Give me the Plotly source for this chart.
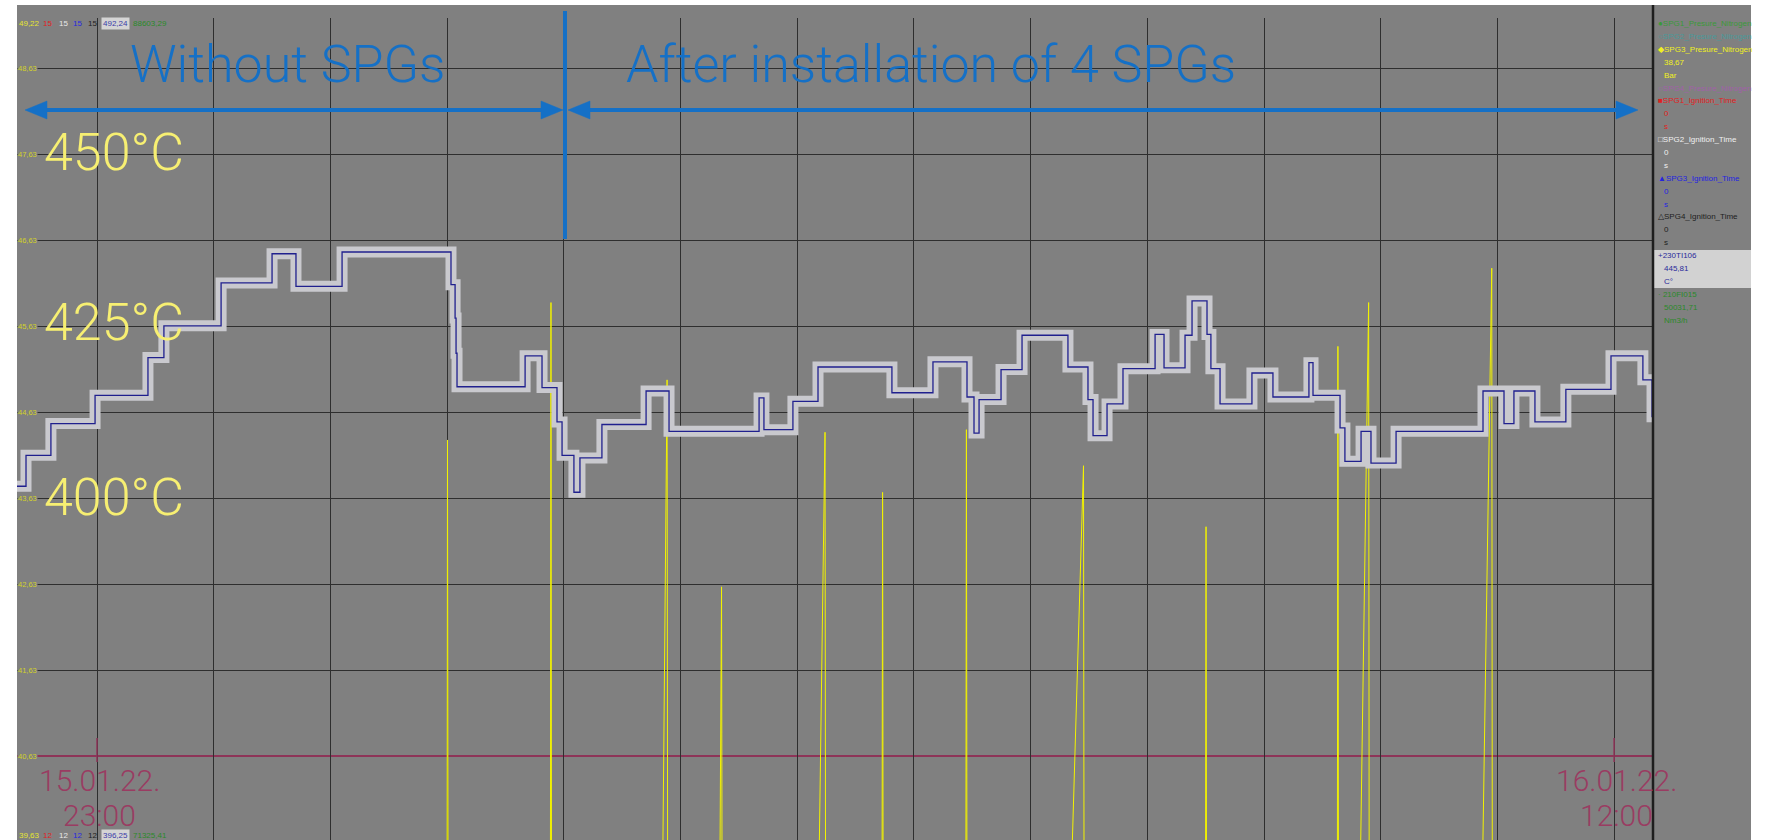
import plotly.graph_objects as go
from datetime import datetime, timedelta

# ---------------- data ----------------
x_range = ["2022-01-15 22:18:52", "2022-01-16 12:20:00"]

# 230TI106 temperature (step line)
temp_times = [
    "2022-01-15 22:18:52", "2022-01-15 22:23:30", "2022-01-15 22:36:18", "2022-01-15 22:59:00",
    "2022-01-15 23:26:12", "2022-01-15 23:34:24", "2022-01-16 00:03:48", "2022-01-16 00:30:00",
    "2022-01-16 00:42:18", "2022-01-16 01:06:00", "2022-01-16 02:02:00", "2022-01-16 02:04:06",
    "2022-01-16 02:04:36", "2022-01-16 02:05:06", "2022-01-16 02:40:06", "2022-01-16 02:48:48",
    "2022-01-16 02:56:30", "2022-01-16 02:59:06", "2022-01-16 03:05:12", "2022-01-16 03:08:18",
    "2022-01-16 03:19:36", "2022-01-16 03:42:18", "2022-01-16 03:54:06", "2022-01-16 04:40:24",
    "2022-01-16 04:42:54", "2022-01-16 04:57:48", "2022-01-16 05:10:42", "2022-01-16 05:48:42",
    "2022-01-16 06:09:48", "2022-01-16 06:27:18", "2022-01-16 06:30:54", "2022-01-16 06:33:30",
    "2022-01-16 06:44:48", "2022-01-16 06:55:36", "2022-01-16 07:19:12", "2022-01-16 07:29:30",
    "2022-01-16 07:32:06", "2022-01-16 07:39:18", "2022-01-16 07:47:30", "2022-01-16 08:04:00",
    "2022-01-16 08:08:36", "2022-01-16 08:19:24", "2022-01-16 08:23:00", "2022-01-16 08:30:42",
    "2022-01-16 08:32:42", "2022-01-16 08:37:24", "2022-01-16 08:53:48", "2022-01-16 09:04:36",
    "2022-01-16 09:23:06", "2022-01-16 09:25:12", "2022-01-16 09:39:06", "2022-01-16 09:41:36",
    "2022-01-16 09:49:54", "2022-01-16 09:55:00", "2022-01-16 10:07:54", "2022-01-16 10:52:36",
    "2022-01-16 11:03:24", "2022-01-16 11:08:30", "2022-01-16 11:19:18", "2022-01-16 11:35:12",
    "2022-01-16 11:58:24", "2022-01-16 12:14:48", "2022-01-16 12:19:30", "2022-01-16 12:20:00",
]
temp_values = [
    437.7, 441.3, 445.0, 448.3,
    452.7, 456.4, 461.4, 464.8,
    461.0, 465.0, 461.2, 457.3,
    453.2, 449.3, 452.9, 449.2,
    445.2, 441.3, 437.0, 441.0,
    444.9, 448.8, 444.1, 448.0,
    444.3, 447.6, 451.6, 448.6,
    452.2, 448.1, 443.9, 447.8,
    451.3, 455.3, 451.6, 447.8,
    443.6, 447.3, 451.4, 455.4,
    451.5, 455.3, 459.3, 455.4,
    451.4, 447.3, 450.9, 448.1,
    452.1, 448.3, 444.5, 440.6,
    444.1, 440.4, 444.1, 448.8,
    445.0, 448.8, 445.2, 449.0,
    452.9, 450.1, 445.81, 445.81,
]

# SPG3_Presure_Nitrogen spikes
pressure_baseline = 38.67
spike_times = [
    "2022-01-16 02:00:12", "2022-01-16 02:53:24", "2022-01-16 03:53:06", "2022-01-16 04:21:06",
    "2022-01-16 05:14:18", "2022-01-16 05:43:54", "2022-01-16 06:27:00", "2022-01-16 07:27:12",
    "2022-01-16 08:30:12", "2022-01-16 09:38:00", "2022-01-16 09:53:48", "2022-01-16 10:57:06",
]
spike_peaks = [44.31, 45.91, 45.01, 42.60, 44.40, 43.70, 44.43, 44.01, 43.30, 45.40, 45.91, 46.31]
spike_rise_min = [0.2, 0.3, 2.5, 1.0, 3.5, 0.3, 0.3, 7.0, 0.3, 0.3, 4.7, 5.2]
spike_fall_min = 0.3

# axis scales / tick labels
pressure_ticks = [41.63, 42.63, 43.63, 44.63, 45.63, 46.63, 47.63, 48.63]
pressure_marker_level = 40.63
pressure_min, pressure_max = 39.63, 49.22
temp_min, temp_max = 396.25, 492.24
date_labels = [("2022-01-15 23:00", "15.01.22.", "23:00"), ("2022-01-16 12:00", "16.01.22.", "12:00")]

header_values = ["49,22", "15", "15", "15", "15", "492,24", "88603,29"]
footer_values = ["39,63", "12", "12", "12", "12", "396,25", "71325,41"]

legend_lines = [
    ("●SPG1_Presure_Nitrogen", "#3a9a3a", 0), ("○SPG2_Presure_Nitrogen", "#4a9a9a", 0),
    ("◆SPG3_Presure_Nitrogen", "#f0f020", 0), ("38,67", "#f0f020", 1), ("Bar", "#f0f020", 1),
    ("○SPG4_Presure_Nitrogen", "#a060a8", 0),
    ("■SPG1_Ignition_Time", "#e02020", 0), ("0", "#e02020", 1), ("s", "#e02020", 1),
    ("□SPG2_Ignition_Time", "#f0f0f0", 0), ("0", "#f0f0f0", 1), ("s", "#f0f0f0", 1),
    ("▲SPG3_Ignition_Time", "#2424e0", 0), ("0", "#2424e0", 1), ("s", "#2424e0", 1),
    ("△SPG4_Ignition_Time", "#1e1e1e", 0), ("0", "#1e1e1e", 1), ("s", "#1e1e1e", 1),
    ("+230TI106", "#2a2a9a", 0), ("445,81", "#2a2a9a", 1), ("C°", "#2a2a9a", 1),
    ("· 210FI015", "#2a8a2a", 0), ("50031,71", "#2a8a2a", 1), ("Nm3/h", "#2a8a2a", 1),
]

# ---------------- geometry helpers (layout only) ----------------
W, H = 1765, 840
PL, PR, PT, PB = 17, 1653, 18, 840


def px(X):
    return (X - PL) / (PR - PL)


def py(Y):
    return (PB - Y) / (PB - PT)


# axis ranges matching the reference's pixel frame (full axis 18.3..841.9 px)
p_per_px = (pressure_max - pressure_min) / (841.9 - 18.3)
t_per_px = (temp_max - temp_min) / (841.9 - 18.3)
y_range = [pressure_min + (841.9 - PB) * p_per_px, pressure_max + (18.3 - PT) * p_per_px]
y2_range = [temp_min + (841.9 - PB) * t_per_px, temp_max + (18.3 - PT) * t_per_px]

# pressure series built from the spike readings
fmt = "%Y-%m-%d %H:%M:%S"
p_x = [x_range[0]]
p_y = [pressure_baseline]
for t, pk, r in zip(spike_times, spike_peaks, spike_rise_min):
    tt = datetime.strptime(t, fmt)
    p_x += [tt - timedelta(minutes=r), tt, tt + timedelta(minutes=spike_fall_min)]
    p_y += [pressure_baseline, pk, pressure_baseline]
p_x.append(x_range[1])
p_y.append(pressure_baseline)

BG = "#808080"
GRID = "#2e2e2e"
MAROON = "#8e3458"
BLUE = "#1570c6"
PALEY = "#f7ef72"
SMALL = "Liberation Sans, Arial, sans-serif"
THIN = "Roboto, Lato, Open Sans, sans-serif"

fig = go.Figure()
fig.add_trace(go.Scatter(x=temp_times, y=temp_values, yaxis="y2", mode="lines",
                         line=dict(color="#c9c9ce", width=11, shape="hv"), hoverinfo="skip"))
fig.add_trace(go.Scatter(x=temp_times, y=temp_values, yaxis="y2", mode="lines",
                         line=dict(color="#20208e", width=1.3, shape="hv"), hoverinfo="skip"))
fig.add_trace(go.Scatter(x=p_x, y=p_y, yaxis="y", mode="lines",
                         line=dict(color="#f2f200", width=1), hoverinfo="skip"))

shapes = []
annotations = []

# white outer margins
shapes.append(dict(type="rect", xref="paper", yref="paper", x0=px(0), x1=px(PL), y0=py(H), y1=py(0),
                   fillcolor="white", line_width=0, layer="above"))
shapes.append(dict(type="rect", xref="paper", yref="paper", x0=px(0), x1=px(W), y0=py(5), y1=py(0),
                   fillcolor="white", line_width=0, layer="above"))
shapes.append(dict(type="rect", xref="paper", yref="paper", x0=px(1751), x1=px(W), y0=py(H), y1=py(0),
                   fillcolor="white", line_width=0, layer="above"))
# right border of plot
shapes.append(dict(type="line", xref="paper", yref="paper", x0=1, x1=1, y0=0, y1=py(5),
                   line=dict(color="#1e1e1e", width=2.5), layer="above"))
# maroon reference line and ticks
shapes.append(dict(type="line", xref="paper", yref="y", x0=0, x1=1, y0=pressure_marker_level,
                   y1=pressure_marker_level, line=dict(color=MAROON, width=2), layer="below"))
for d, _, _ in date_labels:
    shapes.append(dict(type="line", xref="x", yref="paper", x0=d, x1=d, y0=py(762), y1=py(738),
                       line=dict(color=MAROON, width=1.5), layer="above"))

# highlight box in the side legend
shapes.append(dict(type="rect", xref="paper", yref="paper", x0=px(1654), x1=px(1751), y0=py(288), y1=py(250),
                   fillcolor="#d2d2d2", line_width=0, layer="below"))

# blue separator and arrows
shapes.append(dict(type="line", xref="paper", yref="paper", x0=px(565), x1=px(565), y0=py(239), y1=py(11),
                   line=dict(color=BLUE, width=4), layer="above"))


def arrow(x0, x1, yc):
    hl, hh = 22, 9
    shapes.append(dict(type="line", xref="paper", yref="paper", x0=px(x0 + 10), x1=px(x1 - 10), y0=py(yc), y1=py(yc),
                       line=dict(color=BLUE, width=4), layer="above"))
    for tip, base in ((x0, x0 + hl), (x1, x1 - hl)):
        path = (f"M {px(tip)} {py(yc)} L {px(base)} {py(yc - hh)} L {px(base)} {py(yc + hh)} Z")
        shapes.append(dict(type="path", xref="paper", yref="paper", path=path,
                           fillcolor=BLUE, line=dict(color=BLUE, width=0.5), layer="above"))


arrow(25, 563, 110)
arrow(568, 1638, 110)

# big blue captions
annotations.append(dict(xref="paper", yref="paper", x=px(287), y=py(65), text="Without SPGs",
                        showarrow=False, xanchor="center", yanchor="middle",
                        font=dict(family=THIN, size=52, color=BLUE, weight=300)))
annotations.append(dict(xref="paper", yref="paper", x=px(931), y=py(65), text="After installation of 4 SPGs",
                        showarrow=False, xanchor="center", yanchor="middle",
                        font=dict(family=THIN, size=52, color=BLUE, weight=300)))

# yellow temperature captions
for txt, yc in (("450°C", 152), ("425°C", 322), ("400°C", 497)):
    annotations.append(dict(xref="paper", yref="paper", x=px(42), y=py(yc), text=txt, showarrow=False,
                            xanchor="left", yanchor="middle",
                            font=dict(family=THIN, size=52, color=PALEY, weight=300)))

# date labels
for d, l1, l2 in date_labels:
    annotations.append(dict(xref="x", yref="paper", x=d, y=py(780), text=l1, showarrow=False,
                            xanchor="center", yanchor="middle", xshift=2,
                            font=dict(family=THIN, size=30, color="#9a3c62", weight=300)))
    annotations.append(dict(xref="x", yref="paper", x=d, y=py(815), text=l2, showarrow=False,
                            xanchor="center", yanchor="middle", xshift=2,
                            font=dict(family=THIN, size=30, color="#9a3c62", weight=300)))

# pressure axis labels (inside left)
for v in pressure_ticks + [pressure_marker_level]:
    annotations.append(dict(xref="paper", yref="y", x=0, y=v, text=f"{v:.2f}".replace(".", ","),
                            showarrow=False, xanchor="left", yanchor="middle", bgcolor=BG, borderpad=0,
                            font=dict(family=SMALL, size=7.5, color="#d2d228")))

# header / footer rows
row_x = [17, 41, 57, 71, 86, 101, 131]
row_c = ["#e6e630", "#e02020", "#e8e8e8", "#2828e0", "#1e1e1e", "#3a3aa8", "#2a8a2a"]
for vals, yc in ((header_values, 24), (footer_values, 835)):
    for i, (t, x, c) in enumerate(zip(vals, row_x, row_c)):
        annotations.append(dict(xref="paper", yref="paper", x=px(x), y=py(yc), text=t, showarrow=False,
                                xanchor="left", yanchor="middle", borderpad=1,
                                bgcolor="#d4d4d4" if i == 5 else "rgba(0,0,0,0)",
                                font=dict(family=SMALL, size=8, color=c)))

# side legend
for i, (t, c, indent) in enumerate(legend_lines):
    annotations.append(dict(xref="paper", yref="paper", x=px(1656 + 6 * indent), y=py(23.5 + 12.9 * i),
                            text=t, showarrow=False, xanchor="left", yanchor="middle",
                            font=dict(family=SMALL, size=8, color=c)))

fig.update_layout(
    width=W, height=H,
    margin=dict(l=PL, r=W - PR, t=PT, b=H - PB, pad=0),
    paper_bgcolor=BG, plot_bgcolor=BG,
    showlegend=False, hovermode=False,
    xaxis=dict(type="date", range=x_range, showgrid=True, gridcolor=GRID, gridwidth=1,
               tick0="2022-01-15 23:00", dtick=3600000, showticklabels=False, ticks="",
               zeroline=False, showline=False, fixedrange=True),
    yaxis=dict(range=y_range, tickvals=pressure_ticks, showgrid=True, gridcolor=GRID, gridwidth=1,
               showticklabels=False, ticks="", zeroline=False, showline=False, fixedrange=True),
    yaxis2=dict(range=y2_range, overlaying="y", side="right", showgrid=False, showticklabels=False,
                ticks="", zeroline=False, showline=False, visible=False, fixedrange=True),
    shapes=shapes, annotations=annotations,
)

fig.write_html("out.html", include_plotlyjs=True, config={"displayModeBar": False, "staticPlot": True},
               post_script="document.body.style.margin='0';")
